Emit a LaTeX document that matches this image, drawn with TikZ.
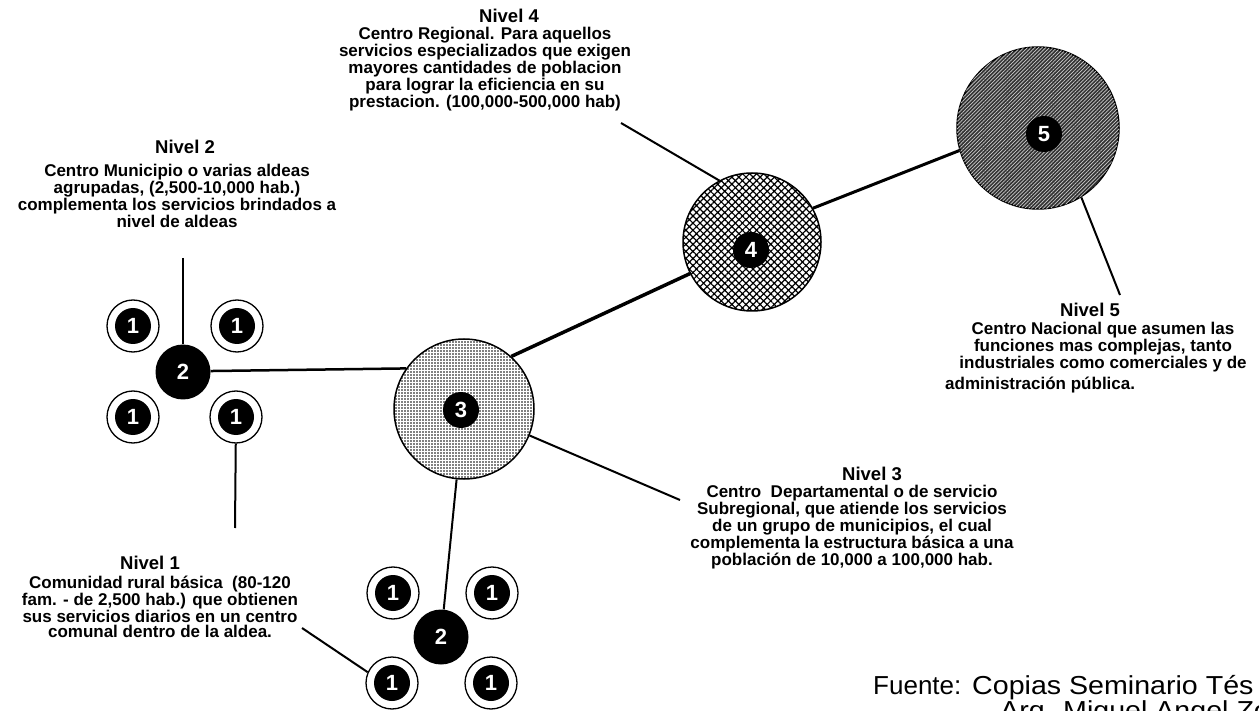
\documentclass[tikz,border=0pt]{standalone}
\usepackage{fontspec}
\setmainfont{Liberation Sans}
\usetikzlibrary{patterns.meta}
\begin{document}
\begin{tikzpicture}[x=1pt,y=-1pt,
  body/.style={align=center, font=\bfseries\fontsize{17}{15}\selectfont, inner sep=0pt},
  head/.style={font=\bfseries\fontsize{18.5}{18}\selectfont, inner sep=0pt, anchor=base},
  ring/.style={circle, draw, line width=1.3pt, fill=white, minimum size=52pt, inner sep=0pt},
  disc/.style={circle, fill=black, text=white, font=\bfseries\fontsize{22}{22}\selectfont, minimum size=36pt, inner sep=0pt},
  bigtwo/.style={circle, fill=black, text=white, font=\bfseries\fontsize{22}{22}\selectfont, minimum size=55pt, inner sep=0pt},
  conn/.style={line width=2pt},
  src/.style={font=\fontsize{26}{26}\selectfont, inner sep=0pt, anchor=base west}
]
\useasboundingbox (0,0) rectangle (1259,711);

% big circles
\node[circle, draw, line width=1.5pt, minimum size=140pt, inner sep=0pt,
      pattern={Dots[distance=3pt,radius=0.8pt]}] (c3) at (464,409) {};
\node[disc] (n3) at (461,410) {3};
\node[circle, draw, line width=1.5pt, minimum size=138pt, inner sep=0pt,
      pattern={Hatch[angle=45,distance=5pt,line width=1.2pt]}] (c4) at (752,242) {};
\node[disc] (n4) at (751,250) {4};
\node[circle, draw, line width=1.5pt, minimum size=162pt, inner sep=0pt, fill=black!80,
      postaction={pattern={Lines[angle=45,distance=2.6pt,line width=0.7pt]}, pattern color=white!80!black}] (c5) at (1038,128) {};
\node[disc] (n5) at (1044,134) {5};

% left cluster
\node[bigtwo] (l2) at (183,372) {2};
\node[ring] (la) at (133,326) {}; \node[disc] (lad) at (la) {1};
\node[ring] (lb) at (237,326) {}; \node[disc] (lbd) at (lb) {1};
\node[ring] (lc) at (133,417) {}; \node[disc] (lcd) at (lc) {1};
\node[ring] (ld) at (236,417) {}; \node[disc] (ldd) at (ld) {1};

% bottom cluster
\node[bigtwo] (b2) at (441,637) {2};
\node[ring] (ba) at (393,593) {}; \node[disc] (bad) at (ba) {1};
\node[ring] (bb) at (492,593) {}; \node[disc] (bbd) at (bb) {1};
\node[ring] (bc) at (392,683) {}; \node[disc] (bcd) at (bc) {1};
\node[ring] (bd) at (491,683) {}; \node[disc] (bdd) at (bd) {1};

% labels
\node[head] (h2) at (185,154) {Nivel 2};
\node[body] (t2) at (177,196) {Centro Municipio o varias aldeas\\agrupadas, (2,500-10,000 hab.)\\complementa los servicios brindados a\\nivel de aldeas};

\node[head] (h4) at (509,23) {Nivel 4};
\node[body] (t4) at (485,69) {Centro Regional. Para aquellos\\servicios especializados que exigen\\mayores cantidades de poblacion\\para lograr la eficiencia en su\\prestacion. (100,000-500,000 hab)};

\node[head] (h5) at (1090,317) {Nivel 5};
\node[body] (t5) at (1103,347) {Centro Nacional que asumen las\\funciones mas complejas, tanto\\industriales como comerciales y de};
\node[body, anchor=base west] (t5b) at (945,389) {administración pública.};

\node[head] (h3) at (872,480) {Nivel 3};
\node[body] (t3) at (852,527) {Centro\ \ Departamental o de servicio\\Subregional, que atiende los servicios\\de un grupo de municipios, el cual\\complementa la estructura básica a una\\población de 10,000 a 100,000 hab.};

\node[head] (h1) at (150,569) {Nivel 1};
\node[body] (t1) at (160,607) {Comunidad rural básica\ \ (80-120\\fam. - de 2,500 hab.) que obtienen\\sus servicios diarios en un centro\\comunal dentro de la aldea.};

\node[src] (s1) at (873,694) {Fuente:};
\node[src] (s1b) at (972,694) {\scalebox{1.1}[1]{Copias Seminario Tés}};
\node[src] (s2) at (1000,719) {\scalebox{1.1}[1]{Arq. Miguel Angel Zo}};

% free ends of leader lines
\coordinate (e2) at (183,258);
\coordinate (e4) at (621,123);
\coordinate (e5) at (1120,295);
\coordinate (e3) at (680,500);
\coordinate (e1) at (302,628);
\coordinate (e1b) at (235,528);

% connectors
\draw[line width=2.5pt] (l2.2) -- (c3.145);
\draw[line width=3.5pt] (c3.48) -- (c4.207);
\draw[line width=3pt] (c4.29) -- (c5.196);
\draw[conn] (c3.264) -- (b2);
\draw[conn] (e2) -- (l2);
\draw[conn] (e4) -- (c4.118);
\draw[conn] (c5.302) -- (e5);
\draw[conn] (c3.338) -- (e3);
\draw[conn] (e1) -- (bc.156);
\draw[conn] (ld) -- (e1b);
\end{tikzpicture}
\end{document}
